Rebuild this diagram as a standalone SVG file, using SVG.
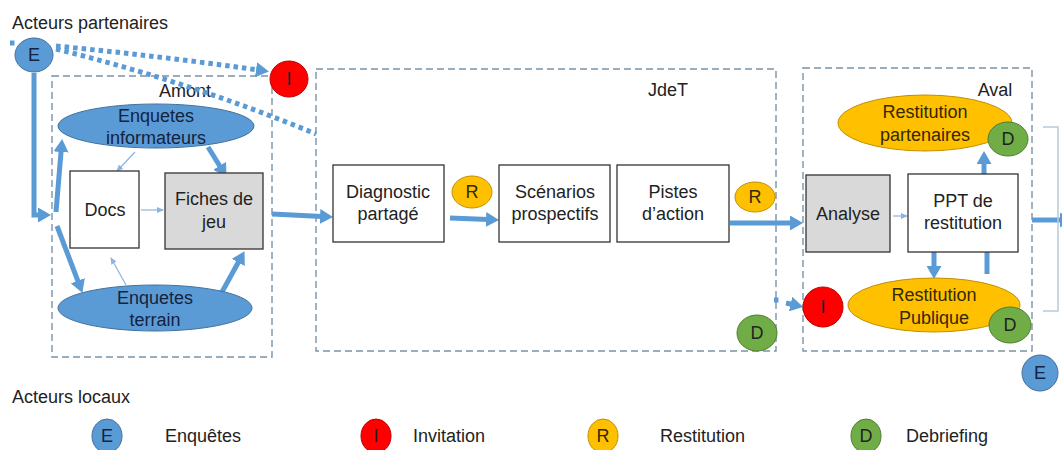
<svg xmlns="http://www.w3.org/2000/svg" width="1062" height="450" viewBox="0 0 1062 450">
<defs>
<marker id="ah" markerUnits="strokeWidth" markerWidth="2.6" markerHeight="3" refX="0.4" refY="1.5" orient="auto"><path d="M0,0 L2.6,1.5 L0,3 z" fill="#5B9BD5"/></marker>
<marker id="ahs" markerUnits="userSpaceOnUse" markerWidth="7" markerHeight="6" refX="6" refY="3" orient="auto"><path d="M0,0 L7,3 L0,6 z" fill="#8DB3E2"/></marker>
<style>
.t{font-family:"Liberation Sans",Arial,sans-serif;font-size:18px;fill:#222;text-anchor:middle}
.lt{font-family:"Liberation Sans",Arial,sans-serif;font-size:18px;fill:#222}
.zone{fill:none;stroke:#7A93A8;stroke-width:1.4;stroke-dasharray:7 4}
.box{fill:#fff;stroke:#333;stroke-width:1.3}
.gbox{fill:#D9D9D9;stroke:#333;stroke-width:1.3}
.be{fill:#5B9BD5;stroke:#41719C;stroke-width:1}
.ye{fill:#FFC000;stroke:#BF9000;stroke-width:1}
.re{fill:#FF0000;stroke:#C00000;stroke-width:1}
.ge{fill:#70AD47;stroke:#507E32;stroke-width:1}
.th{fill:none;stroke:#5B9BD5;stroke-width:5;marker-end:url(#ah)}
.tl{fill:none;stroke:#5B9BD5;stroke-width:5}
.thin{fill:none;stroke:#8DB3E2;stroke-width:1.2;marker-end:url(#ahs)}
.dot{fill:none;stroke:#5B9BD5;stroke-width:5;stroke-dasharray:4.5 4}
.bt{fill:#14233F}
.yt{fill:#332800}
</style>
</defs>

<text class="lt" x="12" y="29">Acteurs partenaires</text>
<text class="lt" x="12" y="403">Acteurs locaux</text>

<g id="amont"><rect class="zone" x="52" y="76" width="220" height="281"/><text class="t" x="185" y="97">Amont</text></g>
<g id="jdet"><rect class="zone" x="316" y="69" width="460" height="282"/><text class="t" x="668" y="96">JdeT</text></g>
<g id="aval"><rect class="zone" x="803" y="68" width="229" height="283"/><text class="t" x="995" y="96">Aval</text></g>

<g id="connectors">
<path class="dot" d="M10,43 H18"/>
<path class="dot" d="M56,46 Q160,56 258,70" marker-end="url(#ah)"/>
<path class="dot" d="M56,49 Q190,82 316,134"/>
<path class="dot" d="M774,300 H782"/>
<path class="th" d="M786,303 L792.5,304.5"/>
<path class="th" d="M34,73 V215 H40"/>
<path class="th" d="M56,212 L61.2,150"/>
<path class="th" d="M57,226 L78.5,282.6"/>
<path class="th" d="M208,147 L220.7,167.5"/>
<path class="th" d="M222,292 L239.2,260.8"/>
<path class="th" d="M272,214 L322,216.5"/>
<path class="th" d="M450,218 L488,219.6"/>
<path class="th" d="M730,223 L792,223"/>
<path class="th" d="M984,174 V162"/>
<path class="th" d="M934,252 V268"/>
<path class="tl" d="M987,274 V252"/>
<path class="th" d="M1032,220 L1062,220"/>
<path class="thin" d="M135,152 L117,171"/>
<path class="thin" d="M126,285 L111,258"/>
<path class="thin" d="M141,210 L163,210"/>
<path class="thin" d="M893,216 L907,216"/>
<path d="M1043,127 H1058 V311 H1043" fill="none" stroke="#B9C9D8" stroke-width="1.5"/>
</g>

<g id="e-top"><ellipse class="be" cx="34" cy="55" rx="19" ry="17"/><text class="t bt" x="34" y="61" font-size="16">E</text></g>
<g id="i-top"><ellipse class="re" cx="289" cy="79" rx="19" ry="18"/><text class="t" x="289" y="85" font-size="16">I</text></g>

<g id="enq-info"><ellipse class="be" cx="156" cy="126" rx="98" ry="22"/><text class="t bt" x="156" y="122">Enquetes</text><text class="t bt" x="156" y="144">informateurs</text></g>
<g id="docs"><rect class="box" x="70" y="171" width="69" height="77"/><text class="t" x="105" y="216">Docs</text></g>
<g id="fiches"><rect class="gbox" x="165" y="173" width="98" height="76"/><text class="t" x="214" y="205">Fiches de</text><text class="t" x="214" y="228">jeu</text></g>
<g id="enq-terrain"><ellipse class="be" cx="155" cy="308" rx="97" ry="23"/><text class="t bt" x="155" y="304">Enquetes</text><text class="t bt" x="155" y="326">terrain</text></g>

<g id="diagnostic"><rect class="box" x="333" y="165" width="111" height="77"/><text class="t" x="388" y="198">Diagnostic</text><text class="t" x="388" y="220">partagé</text></g>
<g id="r1"><ellipse class="ye" cx="472" cy="192" rx="20" ry="16"/><text class="t yt" x="472" y="198" font-size="16">R</text></g>
<g id="scenarios"><rect class="box" x="499" y="165" width="111" height="77"/><text class="t" x="555" y="198">Scénarios</text><text class="t" x="555" y="220">prospectifs</text></g>
<g id="pistes"><rect class="box" x="617" y="165" width="112" height="77"/><text class="t" x="673" y="198">Pistes</text><text class="t" x="673" y="220">d’action</text></g>
<g id="r2"><ellipse class="ye" cx="755" cy="197" rx="20" ry="15"/><text class="t yt" x="755" y="203" font-size="16">R</text></g>
<g id="d-jdet"><ellipse class="ge" cx="757" cy="333" rx="20" ry="18"/><text class="t" x="757" y="339" font-size="16">D</text></g>

<g id="rest-part"><ellipse class="ye" cx="925" cy="123" rx="87" ry="28"/><text class="t yt" x="925" y="118">Restitution</text><text class="t yt" x="925" y="141">partenaires</text></g>
<g id="d-part"><ellipse class="ge" cx="1008" cy="139" rx="20" ry="17"/><text class="t" x="1008" y="145" font-size="16">D</text></g>
<g id="analyse"><rect class="gbox" x="806" y="175" width="84" height="77"/><text class="t" x="848" y="220">Analyse</text></g>
<g id="ppt"><rect class="box" x="908" y="174" width="110" height="78"/><text class="t" x="963" y="207">PPT de</text><text class="t" x="963" y="229">restitution</text></g>
<g id="rest-pub"><ellipse class="ye" cx="934" cy="305" rx="86" ry="27"/><text class="t yt" x="934" y="301">Restitution</text><text class="t yt" x="934" y="324">Publique</text></g>
<g id="d-pub"><ellipse class="ge" cx="1010" cy="325" rx="21" ry="18"/><text class="t" x="1010" y="331" font-size="16">D</text></g>
<g id="i-pub"><ellipse class="re" cx="823" cy="307" rx="20" ry="20"/><text class="t" x="823" y="313" font-size="16">I</text></g>
<g id="e-bottom"><ellipse class="be" cx="1040" cy="373" rx="18" ry="18"/><text class="t bt" x="1040" y="379" font-size="16">E</text></g>

<g id="legend">
<ellipse class="be" cx="107" cy="436" rx="15" ry="17"/><text class="t bt" x="107" y="442" font-size="15">E</text><text class="lt" x="165" y="442">Enquêtes</text>
<ellipse class="re" cx="376" cy="436" rx="15" ry="17"/><text class="t" x="376" y="442" font-size="15">I</text><text class="lt" x="413" y="442">Invitation</text>
<ellipse class="ye" cx="603" cy="436" rx="15" ry="17"/><text class="t yt" x="603" y="442" font-size="15">R</text><text class="lt" x="660" y="442">Restitution</text>
<ellipse class="ge" cx="866" cy="436" rx="15" ry="17"/><text class="t" x="866" y="442" font-size="15">D</text><text class="lt" x="906" y="442">Debriefing</text>
</g>
</svg>
